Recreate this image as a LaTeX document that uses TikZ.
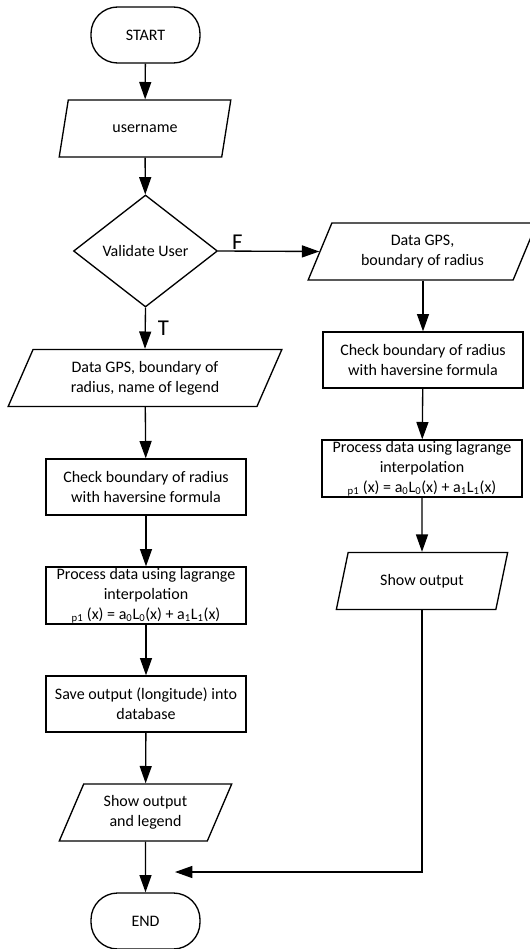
\documentclass[tikz,border=0pt]{standalone}
\usepackage{fontspec}
\setmainfont{Carlito}
\usetikzlibrary{shapes.geometric,arrows.meta}

\tikzset{
  termBox/.style={draw, line width=1pt, rectangle, rounded corners=20pt,
    minimum width=81.75pt, minimum height=42pt, inner sep=0pt},
  ioBox/.style={draw, line width=1pt, trapezium, trapezium left angle=64,
    trapezium right angle=116, trapezium stretches=true, align=center,
    minimum height=42.75pt, inner sep=0pt},
  procBox/.style={draw, line width=1pt, rectangle, align=center,
    minimum width=150pt, minimum height=42pt, inner sep=0pt},
  decBox/.style={draw, line width=1pt, diamond, minimum width=108pt,
    minimum height=84pt, inner sep=0pt},
  flowArrow/.style={-{Triangle[length=13pt,width=9pt]}, line width=1pt},
  branchLab/.style={font=\fontsize{17}{20}\selectfont, inner sep=1pt}
}

\begin{document}
\begin{tikzpicture}[x=0.75pt, y=-0.75pt, font=\fontsize{12}{15}\selectfont]
  \useasboundingbox (0,0) rectangle (529,949);
  % ------- left: main path -------
  \node[termBox] (start) at (145.5,35) {START};
  \node[ioBox, minimum width=129pt] (user) at (145,128.5) {username};
  \node[decBox] (valid) at (145.5,251) {Validate User};
  \node[ioBox, minimum width=205.5pt] (dataL) at (145,378)
    {Data GPS, boundary of\\radius, name of legend};
  \node[procBox] (checkL) at (146,487)
    {Check boundary of radius\\with haversine formula};
  \node[procBox, minimum height=42.75pt] (procL) at (146,595.5)
    {Process data using lagrange\\interpolation\\
     \textsubscript{p1} (x) = a\textsubscript{0}L\textsubscript{0}(x) + a\textsubscript{1}L\textsubscript{1}(x)};
  \node[procBox] (save) at (146,704)
    {Save output (longitude) into\\database};
  \node[ioBox, minimum width=129.75pt] (showL) at (145.5,812.5)
    {Show output\\and legend};
  \node[termBox] (end) at (145.5,921) {END};
  % ------- right: false branch -------
  \node[ioBox, minimum width=171.75pt] (dataR) at (422.5,251.5)
    {Data GPS,\\boundary of radius};
  \node[procBox] (checkR) at (423,360)
    {Check boundary of radius\\with haversine formula};
  \node[procBox, minimum height=42.75pt] (procR) at (422,468.5)
    {Process data using lagrange\\interpolation\\
     \textsubscript{p1} (x) = a\textsubscript{0}L\textsubscript{0}(x) + a\textsubscript{1}L\textsubscript{1}(x)};
  \node[ioBox, minimum width=129pt] (showR) at (422,581) {Show output};
  \coordinate (join) at (175,872);
  % ------- connectors -------
  \draw[flowArrow] (start) -- (user);
  \draw[flowArrow] (user) -- (valid);
  \draw[flowArrow] (valid.east) -- node[branchLab, pos=0.19, above] {F} (dataR.west);
  \draw[flowArrow] (valid.south) -- node[branchLab, midway, right, xshift=8pt] {T} (dataL.north);
  \draw[flowArrow] (dataL) -- (checkL);
  \draw[flowArrow] (checkL) -- (procL);
  \draw[flowArrow] (procL) -- (save);
  \draw[flowArrow] (save) -- (showL);
  \draw[flowArrow] (showL) -- (end);
  \draw[flowArrow] (dataR.south -| checkR.north) -- (checkR);
  \draw[flowArrow] (checkR) -- (procR);
  \draw[flowArrow] (procR) -- (showR);
  \draw[flowArrow] (showR.south) |- (join);
\end{tikzpicture}
\end{document}
